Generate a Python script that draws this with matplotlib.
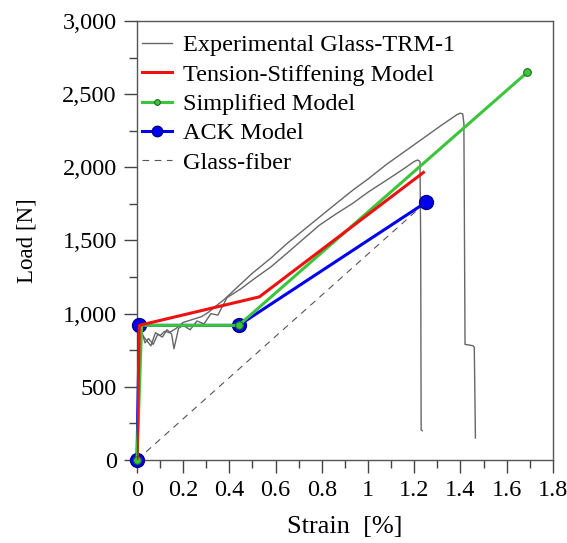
import matplotlib.pyplot as plt
from matplotlib.ticker import MultipleLocator, FuncFormatter

plt.rcParams['font.family'] = ['Liberation Serif', 'DejaVu Serif']

# experimental curves (two specimens)
exp1_strain = [0, 0.008, 0.02, 0.035, 0.05, 0.07, 0.09, 0.11, 0.13, 0.15, 0.16, 0.18, 0.2, 0.23,
               0.26, 0.29, 0.32, 0.35, 0.39, 0.45, 0.5, 0.58, 0.65, 0.72, 0.79, 0.86, 0.935,
               1.0, 1.08, 1.15, 1.2, 1.215, 1.225, 1.228, 1.23, 1.235]
exp1_load = [0, 870, 880, 800, 830, 790, 860, 840, 890, 860, 760, 900, 920, 890,
             950, 930, 1000, 990, 1110, 1170, 1230, 1320, 1414, 1510, 1605, 1680, 1755,
             1830, 1912, 1985, 2040, 2050, 2040, 1500, 205, 200]
exp2_strain = [0, 0.008, 0.02, 0.04, 0.06, 0.08, 0.1, 0.12, 0.14, 0.17, 0.2, 0.24, 0.28, 0.31,
               0.34, 0.38, 0.42, 0.5, 0.58, 0.65, 0.72, 0.79, 0.86, 0.935, 1.0, 1.08, 1.16,
               1.24, 1.32, 1.385, 1.40, 1.41, 1.415, 1.42, 1.44, 1.455, 1.46, 1.465]
exp2_load = [0, 850, 860, 820, 780, 870, 850, 880, 870, 900, 940, 960, 980, 1010,
             1050, 1100, 1160, 1277, 1380, 1480, 1570, 1660, 1750, 1845, 1920, 2020, 2110,
             2200, 2290, 2360, 2370, 2365, 2300, 790, 785, 780, 770, 150]

ts_strain = [0, 0.01, 0.53, 1.24]
ts_load = [0, 920, 1115, 1965]

simp_strain = [0, 0.02, 0.44, 1.69]
simp_load = [0, 920, 920, 2650]

ack_strain = [0, 0.01, 0.44, 1.25]
ack_load = [0, 920, 920, 1760]

fiber_strain = [0, 1.25]
fiber_load = [0, 1760]

fig = plt.figure(figsize=(5.67, 5.43), dpi=100)
ax = fig.add_axes([0.2416, 0.1529, 0.7334, 0.8084])

ax.plot(fiber_strain, fiber_load, color='#555555', lw=0.8, ls=(0, (6, 5)), label='Glass-fiber', zorder=2)
ax.plot(exp1_strain, exp1_load, color='#666666', lw=1.0, label='Experimental Glass-TRM-1', zorder=3)
ax.plot(exp2_strain, exp2_load, color='#666666', lw=1.0, zorder=3)
ax.plot(ack_strain, ack_load, color='#0000ee', lw=2.2, marker='o', ms=10,
        mfc='#0000ee', mec='#00008b', mew=1.0, label='ACK Model', zorder=4, clip_on=False)
ax.plot(simp_strain, simp_load, color='#3cc43c', lw=2.2, marker='o', ms=5.5,
        mfc='#3cc43c', mec='#1e6e1e', mew=0.8, markevery=[0, 2, 3], label='Simplified Model',
        zorder=5, clip_on=False)
ax.plot(ts_strain, ts_load, color='#ee1111', lw=2.2, label='Tension-Stiffening Model', zorder=6)

ax.set_xlim(0, 1.8)
ax.set_ylim(0, 3000)
ax.xaxis.set_major_locator(MultipleLocator(0.2))
ax.xaxis.set_minor_locator(MultipleLocator(0.1))
ax.yaxis.set_major_locator(MultipleLocator(500))
ax.yaxis.set_minor_locator(MultipleLocator(250))
ax.xaxis.set_major_formatter(FuncFormatter(lambda v, p: '0' if abs(v) < 1e-9 else ('1' if abs(v - 1) < 1e-9 else f'{v:.1f}')))
ax.yaxis.set_major_formatter(FuncFormatter(lambda v, p: f'{int(v):,}'))
ax.tick_params(which='both', direction='out', top=False, right=False, colors='#444444',
               labelcolor='black', labelsize=17.5, pad=5)
ax.tick_params(which='major', length=9.5, width=1)
ax.tick_params(which='minor', length=5.5, width=1)
for s in ax.spines.values():
    s.set_color('#555555')
    s.set_linewidth(1)

ax.set_xlabel('Strain  [%]', fontsize=19, labelpad=11)
ax.set_ylabel('Load [N]', fontsize=16.5, labelpad=18)

handles, labels = ax.get_legend_handles_labels()
order = ['Experimental Glass-TRM-1', 'Tension-Stiffening Model', 'Simplified Model', 'ACK Model', 'Glass-fiber']
hmap = dict(zip(labels, handles))
leg = ax.legend([hmap[k] for k in order], order, loc='upper left', bbox_to_anchor=(-0.019, 1.0),
                frameon=False, fontsize=17.5, handlelength=1.2, handletextpad=0.45,
                labelspacing=0.3, borderaxespad=0.35, borderpad=0.2, markerscale=0.75)

fig.savefig('out.png', dpi=100)
